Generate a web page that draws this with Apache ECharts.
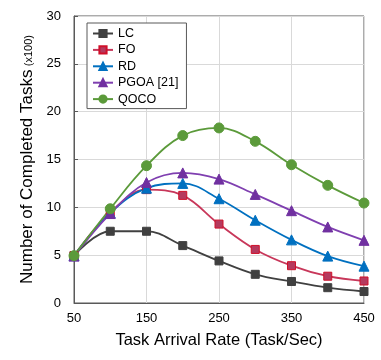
<!DOCTYPE html>
<html><head><meta charset="utf-8">
<script src="https://cdn.jsdelivr.net/npm/echarts@6/dist/echarts.min.js"></script>
<style>html,body{margin:0;padding:0;background:#fff}#c{width:381px;height:360px}</style>
</head><body><div id="c"></div>
<script>
const categories = [50, 100, 150, 200, 250, 300, 350, 400, 450];
const xTicks = [50, 150, 250, 350, 450];
const LC = [4.95, 7.5, 7.5, 6.0, 4.4, 3.0, 2.25, 1.6, 1.2];
const FO = [4.95, 9.45, 11.85, 11.25, 8.25, 5.6, 3.9, 2.8, 2.3];
const RD = [4.95, 9.4, 12.0, 12.5, 10.9, 8.65, 6.6, 4.9, 3.85];
const PGOA = [4.9, 9.35, 12.6, 13.6, 12.95, 11.35, 9.65, 7.95, 6.55];
const QOCO = [4.95, 9.85, 14.35, 17.5, 18.3, 16.9, 14.45, 12.3, 10.45];
const FONT = 'Liberation Sans';

const mk = (name, data, color, symbol, fill, size, border) => ({
  name, type: 'line', smooth: 0.38,
  data: categories.map((x, i) => [x, data[i]]),
  symbol, symbolSize: size,
  lineStyle: { color, width: 1.8 },
  itemStyle: { color: fill, borderColor: border || fill, borderWidth: 1 },
  color
});

const chart = echarts.init(document.getElementById('c'), null, { renderer: 'canvas' });
chart.setOption({
  animation: false,
  textStyle: { fontFamily: FONT },
  grid: { left: 74, right: 17, top: 16, bottom: 57, show: true, borderColor: '#595959', borderWidth: 1 },
  legend: {
    orient: 'vertical', left: 87, top: 23,
    itemWidth: 20, itemHeight: 9, itemGap: 3.4,
    padding: [4, 8, 3, 5],
    borderColor: '#595959', borderWidth: 1, backgroundColor: '#fff',
    textStyle: { fontFamily: FONT, fontSize: 12.5, color: '#000' },
    data: ['LC', 'FO', 'RD', 'PGOA [21]', 'QOCO']
  },
  xAxis: {
    type: 'value', min: 50, max: 450, interval: 100,
    name: 'Task Arrival Rate (Task/Sec)', nameLocation: 'middle', nameGap: 29,
    nameTextStyle: { fontFamily: FONT, fontSize: 16.5, color: '#000' },
    axisLine: { show: true, lineStyle: { color: '#595959' } },
    axisTick: { show: false },
    axisLabel: { fontFamily: FONT, fontSize: 13, color: '#000', margin: 9 },
    splitLine: { show: true, lineStyle: { color: '#D9D9D9' } }
  },
  yAxis: {
    type: 'value', min: 0, max: 30, interval: 5,
    name: '{a|Number of Completed Tasks} {b|(x100)}', nameLocation: 'middle', nameGap: 38, nameRotate: 90,
    nameTextStyle: {
      rich: {
        a: { fontFamily: FONT, fontSize: 17, color: '#000' },
        b: { fontFamily: FONT, fontSize: 11, color: '#000', padding: [3, 0, 0, 0] }
      }
    },
    axisLine: { show: true, lineStyle: { color: '#595959' } },
    axisTick: { show: true, inside: true, length: 4, lineStyle: { color: '#595959' } },
    axisLabel: { fontFamily: FONT, fontSize: 13, color: '#000', margin: 13 },
    splitLine: { show: true, lineStyle: { color: '#D9D9D9' } }
  },
  series: [
    mk('LC', LC, '#404040', 'rect', '#404040', 8),
    mk('FO', FO, '#C8375A', 'rect', '#B53A5E', 8, '#D0102A'),
    mk('RD', RD, '#0070C0', 'triangle', '#0070C0', 10),
    mk('PGOA [21]', PGOA, '#7F3FB0', 'triangle', '#7030A0', 10),
    mk('QOCO', QOCO, '#5B9A3A', 'circle', '#5B9A3A', 10)
  ]
});
</script></body></html>
